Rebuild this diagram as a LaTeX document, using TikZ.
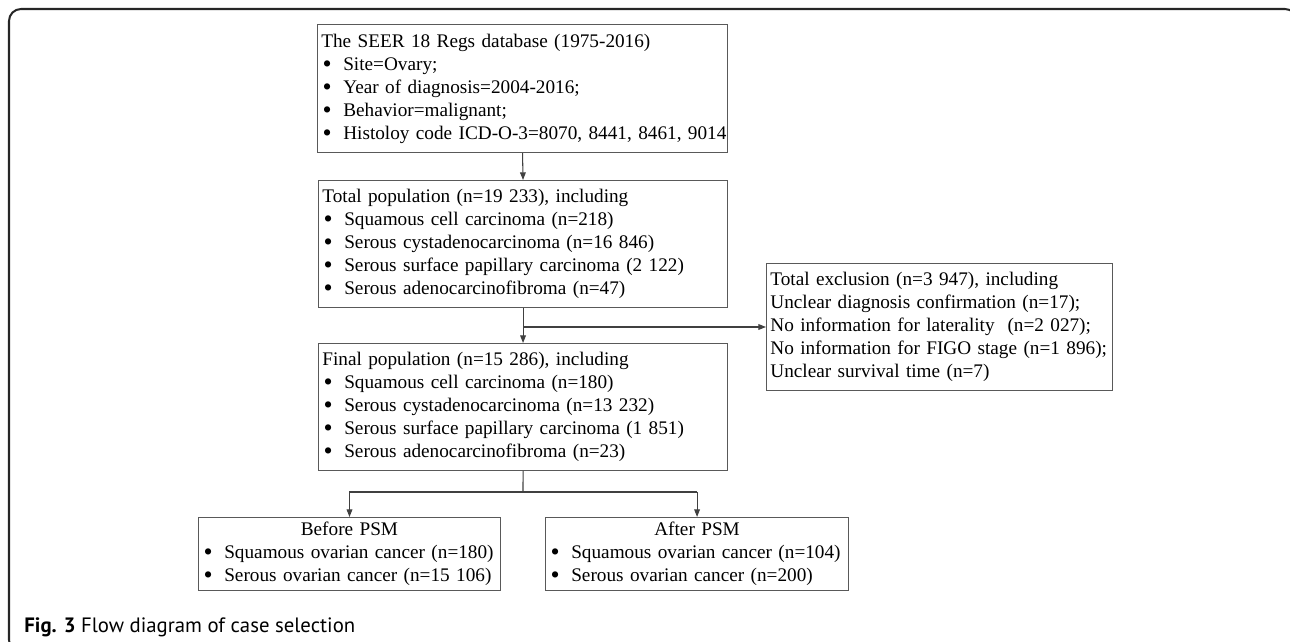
\documentclass[tikz,border=0pt]{standalone}
\usepackage{fontspec}
\usepackage{graphicx}
\setmainfont{Liberation Serif}
\newfontfamily\capfont{PT Sans}
\usetikzlibrary{arrows.meta}
% bullet line inside a box
\newcommand{\itm}[1]{\mbox{\makebox[11.4pt][l]{\hspace{0.6pt}\raisebox{-1.1pt}{\scalebox{1.35}{\textbullet}}}#1}}
\newcommand{\row}[1]{\mbox{#1}}

\begin{document}
\begin{tikzpicture}[x=0.52pt,y=-0.52pt,
    box/.style={draw=black!65, line width=0.55pt, rectangle, anchor=north west,
      align=left, inner xsep=2pt, inner ysep=0pt},
    flow/.style={draw=black!75, line width=0.55pt},
    arr/.style={flow, -{Triangle[length=4pt,width=3pt]}}]
  \useasboundingbox (0,0) rectangle (1290,641);
  % Frame
  \draw[line width=1.05pt, black!85, rounded corners=6.2pt] (9,9) rectangle (1297,652);
  % Boxes
  \node[box, text width=209.2pt, minimum height=66.6pt] (seer) at (317,24) {%
    \row{The SEER 18 Regs database (1975-2016)}\\
    \itm{Site=Ovary;}\\
    \itm{Year of diagnosis=2004-2016;}\\
    \itm{Behavior=malignant;}\\
    \itm{Histoloy code ICD-O-3=8070, 8441, 8461, 9014}};
  \node[box, text width=208.7pt, minimum height=66pt] (total) at (318,180) {%
    \row{Total population (n=19 233), including}\\
    \itm{Squamous cell carcinoma (n=218)}\\
    \itm{Serous cystadenocarcinoma (n=16 846)}\\
    \itm{Serous surface papillary carcinoma (2 122)}\\
    \itm{Serous adenocarcinofibroma (n=47)}};
  \node[box, text width=208.7pt, minimum height=66pt] (final) at (318,343) {%
    \row{Final population (n=15 286), including}\\
    \itm{Squamous cell carcinoma (n=180)}\\
    \itm{Serous cystadenocarcinoma (n=13 232)}\\
    \itm{Serous surface papillary carcinoma (1 851)}\\
    \itm{Serous adenocarcinofibroma (n=23)}};
  \node[box, text width=176pt, minimum height=66pt] (excl) at (766,263) {%
    \row{Total exclusion (n=3 947), including}\\
    \row{Unclear diagnosis confirmation (n=17);}\\
    \row{No information for laterality\ \ (n=2 027);}\\
    \row{No information for FIGO stage (n=1 896);}\\
    \row{Unclear survival time (n=7)}};
  \node[box, text width=153pt, minimum height=38pt] (before) at (198,517) {%
    \makebox[\linewidth]{Before PSM}\\
    \itm{Squamous ovarian cancer (n=180)}\\
    \itm{Serous ovarian cancer (n=15 106)}};
  \node[box, text width=153.6pt, minimum height=38pt] (after) at (545,517) {%
    \makebox[\linewidth]{After PSM}\\
    \itm{Squamous ovarian cancer (n=104)}\\
    \itm{Serous ovarian cancer (n=200)}};
  % Arrows
  \draw[arr] (seer.south) -- (total.north);
  \draw[arr] (total.south) -- (final.north);
  \draw[arr] (total.south |- excl.west) -- (excl.west);
  \coordinate (fork) at (523,492);
  \draw[flow] (final.south) -- (fork);
  \draw[flow] (before.north |- fork) -- (after.north |- fork);
  \draw[arr] (before.north |- fork) -- (before.north);
  \draw[arr] (after.north |- fork) -- (after.north);
  % Caption
  \node[anchor=base west, inner sep=0pt, font=\capfont\fontsize{10.8}{12}\selectfont] (caption) at (24,632)
    {\textbf{Fig. 3} Flow diagram of case selection};
\end{tikzpicture}
\end{document}
